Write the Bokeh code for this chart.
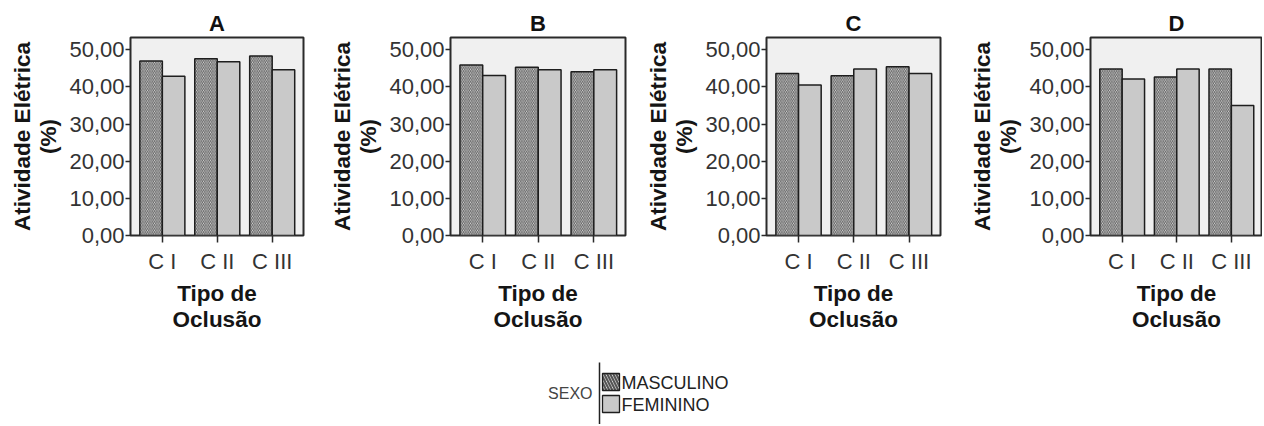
from bokeh.plotting import figure
from bokeh.models import Range1d, FixedTicker, ColumnDataSource
from bokeh.layouts import column, row
from bokeh.transform import dodge
from bokeh.embed import file_html
from bokeh.resources import INLINE
from bokeh.core.properties import value

# ---------------- data ----------------
categories = ["C I", "C II", "C III"]
panel_titles = ["A", "B", "C", "D"]

masculino_A = [47.0, 47.6, 48.3]
feminino_A = [42.9, 46.8, 44.6]
masculino_B = [45.9, 45.3, 44.1]
feminino_B = [43.1, 44.6, 44.6]
masculino_C = [43.6, 43.0, 45.4]
feminino_C = [40.5, 44.8, 43.6]
masculino_D = [44.8, 42.7, 44.8]
feminino_D = [42.1, 44.8, 35.0]

y_ticks = [0, 10, 20, 30, 40, 50]
y_tick_labels = ["0,00", "10,00", "20,00", "30,00", "40,00", "50,00"]
sexo_title = "SEXO"
sexo_labels = ["MASCULINO", "FEMININO"]

y_label = "Atividade Elétrica\n(%)"
x_label = "Tipo de\nOclusão"

# ---------------- style ----------------
FONT = "Liberation Sans"
M_FILL = "#dedede"
M_HATCH = "#5c5c5c"
F_FILL = "#c9c9c9"
BG = "#f0f0f0"
EDGE = "#1e1e1e"
BAR_W = 0.41
FIG_H = 334

# per panel: (width, min_border_left, min_border_right, top, bottom)
borders = [(316, 130, 13, 34, 99), (316, 134, 7, 37, 96),
           (316, 134, 8, 34, 96), (314, 142, 0, 37, 95)]


def make_panel(title, m_vals, f_vals, b):
    w, left, right, top, bottom = b
    xs = list(range(1, len(categories) + 1))
    src = ColumnDataSource(dict(x=xs, m=m_vals, f=f_vals))
    p = figure(width=w, height=FIG_H, output_backend="svg", toolbar_location=None,
               x_range=Range1d(0.42, 3.57), y_range=Range1d(0, 53.3),
               min_border_left=left, min_border_right=right,
               min_border_top=top, min_border_bottom=bottom,
               background_fill_color=BG, border_fill_color="white")
    p.vbar(x=dodge("x", -BAR_W / 2, range=p.x_range), top="m", width=BAR_W, source=src,
           fill_color=M_FILL, hatch_pattern="\\", hatch_color=M_HATCH, hatch_scale=3.5,
           hatch_weight=1.0, line_color=EDGE, line_width=1.5)
    p.vbar(x=dodge("x", BAR_W / 2, range=p.x_range), top="f", width=BAR_W, source=src,
           fill_color=F_FILL, line_color=EDGE, line_width=1.5)

    p.title.text = title
    p.title.align = "center"
    p.title.text_font = FONT
    p.title.text_font_size = "22px"
    p.title.text_font_style = "bold"
    p.title.text_color = "#111111"
    p.title.standoff = 3

    p.outline_line_color = "#2a2a2a"
    p.outline_line_width = 2
    p.xgrid.visible = False
    p.ygrid.visible = False

    for ax in (p.xaxis[0], p.yaxis[0]):
        ax.axis_line_color = None
        ax.minor_tick_line_color = None
        ax.major_tick_in = 0
        ax.major_tick_line_color = "#2a2a2a"
        ax.major_tick_line_width = 1.5
        ax.major_label_text_font = FONT
        ax.major_label_text_font_size = "22px"
        ax.major_label_text_color = "#333333"
        ax.axis_label_text_font = FONT
        ax.axis_label_text_font_size = "22.5px"
        ax.axis_label_text_font_style = "bold"
        ax.axis_label_text_color = "#151515"
        ax.axis_label_text_line_height = 1.05

    p.yaxis.ticker = FixedTicker(ticks=y_ticks)
    p.yaxis.major_label_overrides = {t: l for t, l in zip(y_ticks, y_tick_labels)}
    p.yaxis.major_tick_out = 5
    p.yaxis.major_label_standoff = 1
    p.yaxis.axis_label = y_label
    p.yaxis.axis_label_standoff = 5

    p.xaxis.ticker = FixedTicker(ticks=xs)
    p.xaxis.major_label_overrides = {x: c for x, c in zip(xs, categories)}
    p.xaxis.major_tick_out = 7
    p.xaxis.major_label_standoff = 6
    p.xaxis.axis_label = x_label
    p.xaxis.axis_label_standoff = 4
    return p


values = [(masculino_A, feminino_A), (masculino_B, feminino_B),
          (masculino_C, feminino_C), (masculino_D, feminino_D)]
panels = [make_panel(t, m, f, b) for t, (m, f), b in zip(panel_titles, values, borders)]

# ---------------- legend ----------------
LH = 90
leg = figure(width=1262, height=LH, output_backend="svg", toolbar_location=None,
             x_range=Range1d(0, 1262), y_range=Range1d(0, LH),
             min_border=0, x_axis_location=None, y_axis_location=None,
             outline_line_color=None, background_fill_color="white",
             border_fill_color="white")
leg.xgrid.visible = False
leg.ygrid.visible = False
leg.segment(x0=[599], y0=[62], x1=[599], y1=[0], line_color="#222222", line_width=1.5)
leg.text(x=[592], y=[31], text=[sexo_title], text_align="right", text_baseline="middle",
         text_font=value(FONT), text_font_size="16px", text_color="#444444")
leg.quad(left=[602], right=[619], top=[51], bottom=[34], fill_color="#f4f4f4",
         hatch_pattern="\\", hatch_color="#555555", hatch_scale=6, hatch_weight=2.2,
         line_color=EDGE, line_width=1.3)
leg.quad(left=[602], right=[619], top=[29], bottom=[12], fill_color=F_FILL,
         line_color=EDGE, line_width=1.3)
leg.text(x=[621, 621], y=[42, 20], text=sexo_labels, text_align="left",
         text_baseline="middle", text_font=value(FONT), text_font_size="18px",
         text_color="#222222")

layout = column(row(*panels), leg)
open("out.html", "w").write(file_html(layout, INLINE))
